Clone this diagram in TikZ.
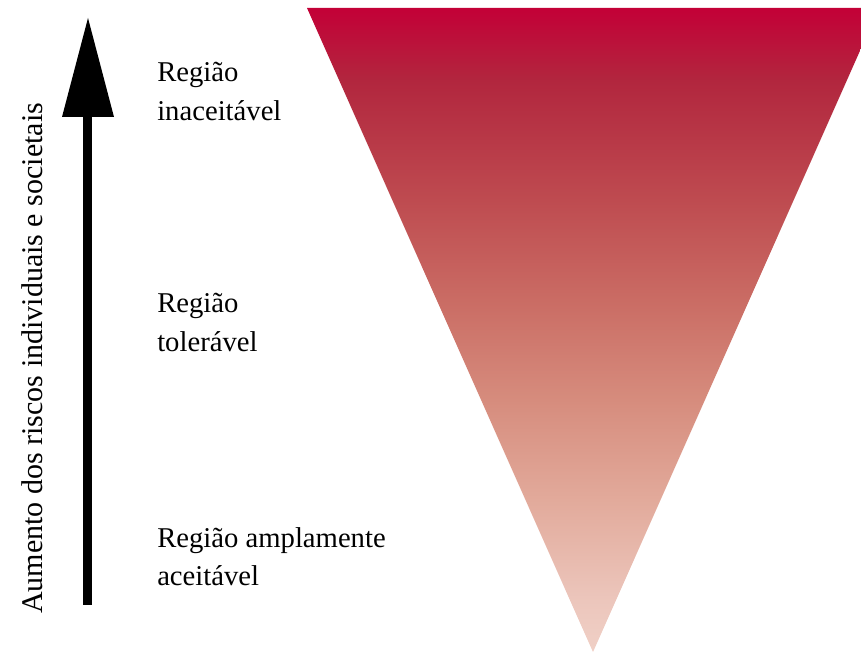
\documentclass[tikz,border=0pt]{standalone}
\usepackage{fontspec}
\setmainfont{Liberation Serif}
\definecolor{ca}{RGB}{195,0,55}
\definecolor{cb}{RGB}{178,38,62}
\definecolor{cc}{RGB}{190,75,80}
\definecolor{cd}{RGB}{202,108,100}
\definecolor{ce}{RGB}{214,140,125}
\definecolor{cf}{RGB}{226,170,155}
\definecolor{cg}{RGB}{236,198,188}
\definecolor{ch}{RGB}{240,208,198}
\pgfdeclareverticalshading{trishade}{100bp}{color(0bp)=(ch); color(25bp)=(ch); color(29bp)=(cg); color(36.8bp)=(cf); color(44.6bp)=(ce); color(52.3bp)=(cd); color(60.1bp)=(cc); color(69.4bp)=(cb); color(75bp)=(ca); color(100bp)=(ca)}
\begin{document}
\begin{tikzpicture}[x=0.75pt,y=-0.75pt,
  lbl/.style={anchor=base west,inner sep=0pt,font=\fontsize{21.5}{30}\selectfont,align=left},
  sidelbl/.style={anchor=base west,inner sep=0pt,rotate=90,font=\fontsize{22.5}{27}\selectfont}]
\useasboundingbox (0,0) rectangle (861,655);
\clip (0,0) rectangle (861,655);
% triangle
\coordinate (tl) at (307,8);
\coordinate (tr) at (879,8);
\coordinate (ap) at (593,652);
\shade[shading=trishade] (tl) -- (tr) -- (ap) -- cycle;
% arrow
\coordinate (tip) at (88,18);
\fill[black] (82.5,605) rectangle (91.5,116);
\fill[black] (62,117) -- (tip) -- (114,117) -- cycle;
% labels
\node[lbl] (r1a) at (157,82) {Região};
\node[lbl] (r1b) at (157,121) {inaceitável};
\node[lbl] (r2a) at (157,313) {Região};
\node[lbl] (r2b) at (157,352) {tolerável};
\node[lbl] (r3a) at (157,548) {Região amplamente};
\node[lbl] (r3b) at (157,586) {aceitável};
\node[sidelbl] (side) at (42,614) {Aumento dos riscos individuais e societais};
\end{tikzpicture}
\end{document}
